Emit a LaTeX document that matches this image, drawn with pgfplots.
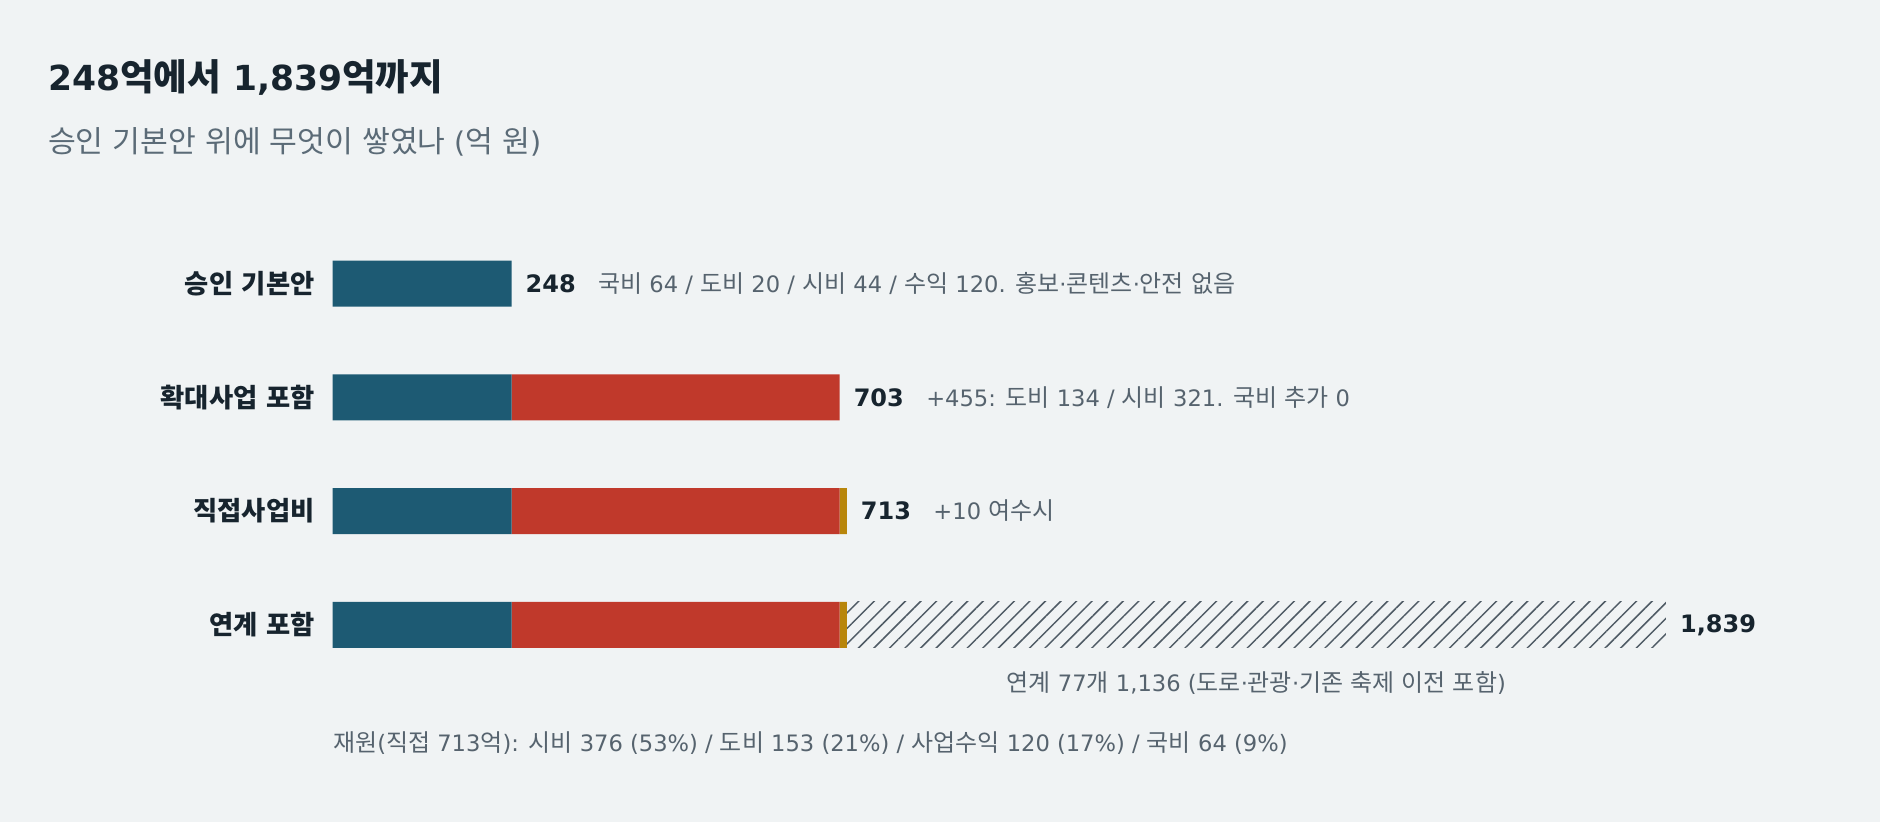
\documentclass[border=0pt]{standalone}
\usepackage{pgfplots}
\pgfplotsset{compat=1.18}
\usetikzlibrary{patterns.meta}
\usepackage{fontspec}
\setmainfont{DejaVu Sans}
\newfontfamily\lat{DejaVu Sans}
\newfontfamily\cjk{Noto Sans CJK KR}[Scale=1.06]
\newXeTeXintercharclass\hcls
\newcount\hcnt
\hcnt="AC00
\loop
  \XeTeXcharclass\hcnt=\hcls
  \advance\hcnt by 1
\ifnum\hcnt<"D7A4 \repeat
\XeTeXinterchartoks 0 \hcls = {\cjk}
\XeTeXinterchartoks 4095 \hcls = {\cjk}
\XeTeXinterchartoks \hcls 0 = {\lat}
\XeTeXinterchartoks \hcls 4095 = {\lat}
\XeTeXinterchartokenstate=1

\definecolor{bgc}{HTML}{F0F3F4}
\definecolor{tealc}{HTML}{1D5A73}
\definecolor{redc}{HTML}{C0392B}
\definecolor{goldc}{HTML}{B8860B}
\definecolor{hatchc}{HTML}{4F5B65}
\definecolor{darkc}{HTML}{17242E}
\definecolor{subc}{HTML}{5B6B77}
\definecolor{annc}{HTML}{56636E}

\begin{document}
\begin{tikzpicture}[x=1bp,y=1bp]
\fill[bgc] (0,0) rectangle (1880,822);
\useasboundingbox (0,0) rectangle (1880,822);

\node[anchor=base west, inner sep=0, font=\fontsize{34.5bp}{40bp}\selectfont\bfseries, text=darkc] at (48,731) {248억에서 1,839억까지};
\node[anchor=base west, inner sep=0, font=\fontsize{28.5bp}{33bp}\selectfont, text=subc] at (48,669) {승인 기본안 위에 무엇이 쌓였나 (억 원)};

\begin{axis}[
  at={(332.7bp,140.1bp)}, anchor=south west,
  scale only axis, width=1442bp, height=455.3bp,
  xmin=0, xmax=2000, ymin=-0.5, ymax=3.5, y dir=reverse,
  xbar stacked, bar width=46bp,
  axis line style={draw=none},
  xtick=\empty, ytick={0,1,2,3},
  yticklabels={승인 기본안, 확대사업 포함, 직접사업비, 연계 포함},
  tick style={draw=none}, major tick length=0pt,
  yticklabel style={font=\fontsize{24.8bp}{30bp}\selectfont\bfseries, text=darkc, inner sep=0pt, xshift=-18bp},
  clip=false,
]
\addplot[fill=tealc, draw=none] coordinates {(248,0) (248,1) (248,2) (248,3)};
\addplot[fill=redc, draw=none] coordinates {(0,0) (455,1) (455,2) (455,3)};
\addplot[fill=goldc, draw=none] coordinates {(0,0) (0,1) (10,2) (10,3)};
\addplot[draw=none, pattern={Lines[angle=45,distance=11bp,line width=1.5bp]}, pattern color=hatchc] coordinates {(0,0) (0,1) (0,2) (1136,3)};
\coordinate (p0) at (axis cs:248,0);
\coordinate (p1) at (axis cs:703,1);
\coordinate (p2) at (axis cs:713,2);
\coordinate (p3) at (axis cs:1849,3);
\coordinate (p4) at (axis cs:1281,3);
\end{axis}

\tikzset{vl/.style={anchor=west, inner sep=0, xshift=14bp, font=\fontsize{24bp}{28bp}\selectfont\bfseries, text=darkc},
         an/.style={anchor=base west, inner sep=0, font=\fontsize{22.6bp}{27bp}\selectfont, text=annc}}
\node[vl] (v0) at (p0) {248};
\node[an] at ([xshift=22bp]v0.base east) {국비 64 / 도비 20 / 시비 44 / 수익 120. 홍보·콘텐츠·안전 없음};
\node[vl] (v1) at (p1) {703};
\node[an] at ([xshift=22bp]v1.base east) {+455: 도비 134 / 시비 321. 국비 추가 0};
\node[vl] (v2) at (p2) {713};
\node[an] at ([xshift=22bp]v2.base east) {+10 여수시};
\node[vl] (v3) at (p3) {1,839};
\node[an, anchor=base, yshift=-67bp] at (p4) {연계 77개 1,136 (도로·관광·기존 축제 이전 포함)};

\node[anchor=base west, inner sep=0, font=\fontsize{22.6bp}{27bp}\selectfont, text=annc] at (333,70) {재원(직접 713억): 시비 376 (53\%) / 도비 153 (21\%) / 사업수익 120 (17\%) / 국비 64 (9\%)};
\end{tikzpicture}
\end{document}
